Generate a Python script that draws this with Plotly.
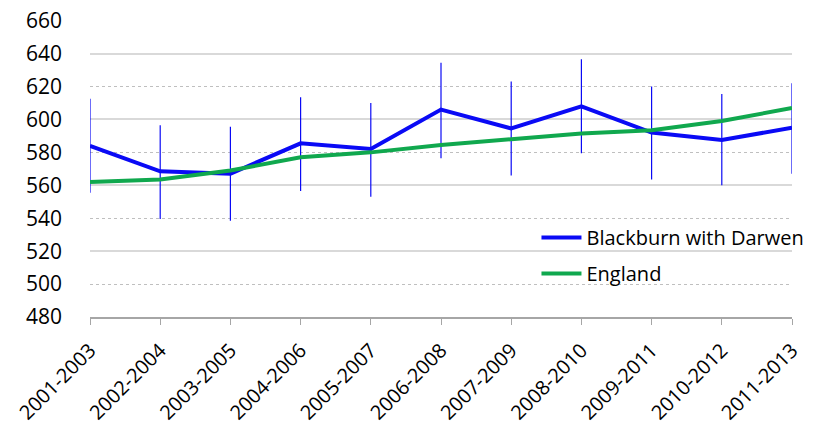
import plotly.graph_objects as go

periods = ["2001-2003", "2002-2004", "2003-2005", "2004-2006", "2005-2007", "2006-2008",
           "2007-2009", "2008-2010", "2009-2011", "2010-2012", "2011-2013"]
blackburn = [584, 568.5, 567, 585.5, 582, 606, 594.5, 608, 592, 587.5, 595]
blackburn_upper = [612.5, 596.5, 595.5, 613.5, 610, 634.5, 623, 636.5, 620, 615.5, 622]
blackburn_lower = [555.5, 539.5, 538.5, 556.5, 553, 576.5, 566, 579.5, 563.5, 560, 567]
england = [562, 563.5, 569, 577, 580, 584.5, 588, 591.5, 593.5, 599, 607]
y_ticks = [480, 500, 520, 540, 560, 580, 600, 620, 640, 660]

err_plus = [u - v for u, v in zip(blackburn_upper, blackburn)]
err_minus = [v - l for v, l in zip(blackburn, blackburn_lower)]

FONT = "Open Sans"
BLUE = "#0A0AF5"
GREEN = "#10A84E"

fig = go.Figure()
# invisible trace carrying the solid grid axis
fig.add_trace(go.Scatter(x=periods, y=england, yaxis="y2", mode="lines",
                         line=dict(width=0), showlegend=False, hoverinfo="skip"))
fig.add_trace(go.Scatter(
    x=periods, y=blackburn, mode="lines", name="Blackburn with Darwen",
    legendgroup="a",
    line=dict(color=BLUE, width=4),
    error_y=dict(type="data", symmetric=False, array=err_plus, arrayminus=err_minus,
                 color=BLUE, thickness=1.2, width=0),
))
fig.add_trace(go.Scatter(
    x=periods, y=england, mode="lines", name="England", legendgroup="b",
    line=dict(color=GREEN, width=4),
))

fig.update_layout(
    width=827, height=428,
    margin=dict(l=90, r=35, t=20, b=111),
    paper_bgcolor="white", plot_bgcolor="white",
    font=dict(family=FONT, color="#000000", size=20),
    xaxis=dict(
        type="category", range=[0, 10], tickangle=-45, automargin=False,
        showgrid=False, showline=True, linecolor="#A6A6A6", linewidth=1.5,
        ticks="outside", ticklen=6, tickcolor="#A6A6A6",
        ticklabelstandoff=6, ticklabeloverflow="allow",
        tickfont=dict(size=20, family=FONT),
    ),
    yaxis=dict(
        range=[480, 660.4], tickvals=y_ticks, showline=False, automargin=False,
        showgrid=True, gridcolor="#BFBFBF", griddash="dot", gridwidth=1,
        zeroline=False, ticks="", ticklabelstandoff=27, ticklabeloverflow="allow",
        tickfont=dict(size=21, family=FONT),
    ),
    yaxis2=dict(
        overlaying="y", range=[480, 660.4], tickvals=[520, 560, 600, 640],
        showticklabels=False, showgrid=True, gridcolor="#D9D9D9", gridwidth=1.5,
        zeroline=False, side="left", automargin=False,
    ),
    legend=dict(
        x=0.636, y=0.333, xanchor="left", yanchor="top",
        bgcolor="rgba(0,0,0,0)", font=dict(size=20, family=FONT),
        itemwidth=40, tracegroupgap=7, traceorder="grouped",
    ),
    showlegend=True,
)

fig.write_html(
    "out.html",
    config={"displayModeBar": False},
    post_script="document.body.style.margin='0';document.body.style.overflow='hidden';",
)
